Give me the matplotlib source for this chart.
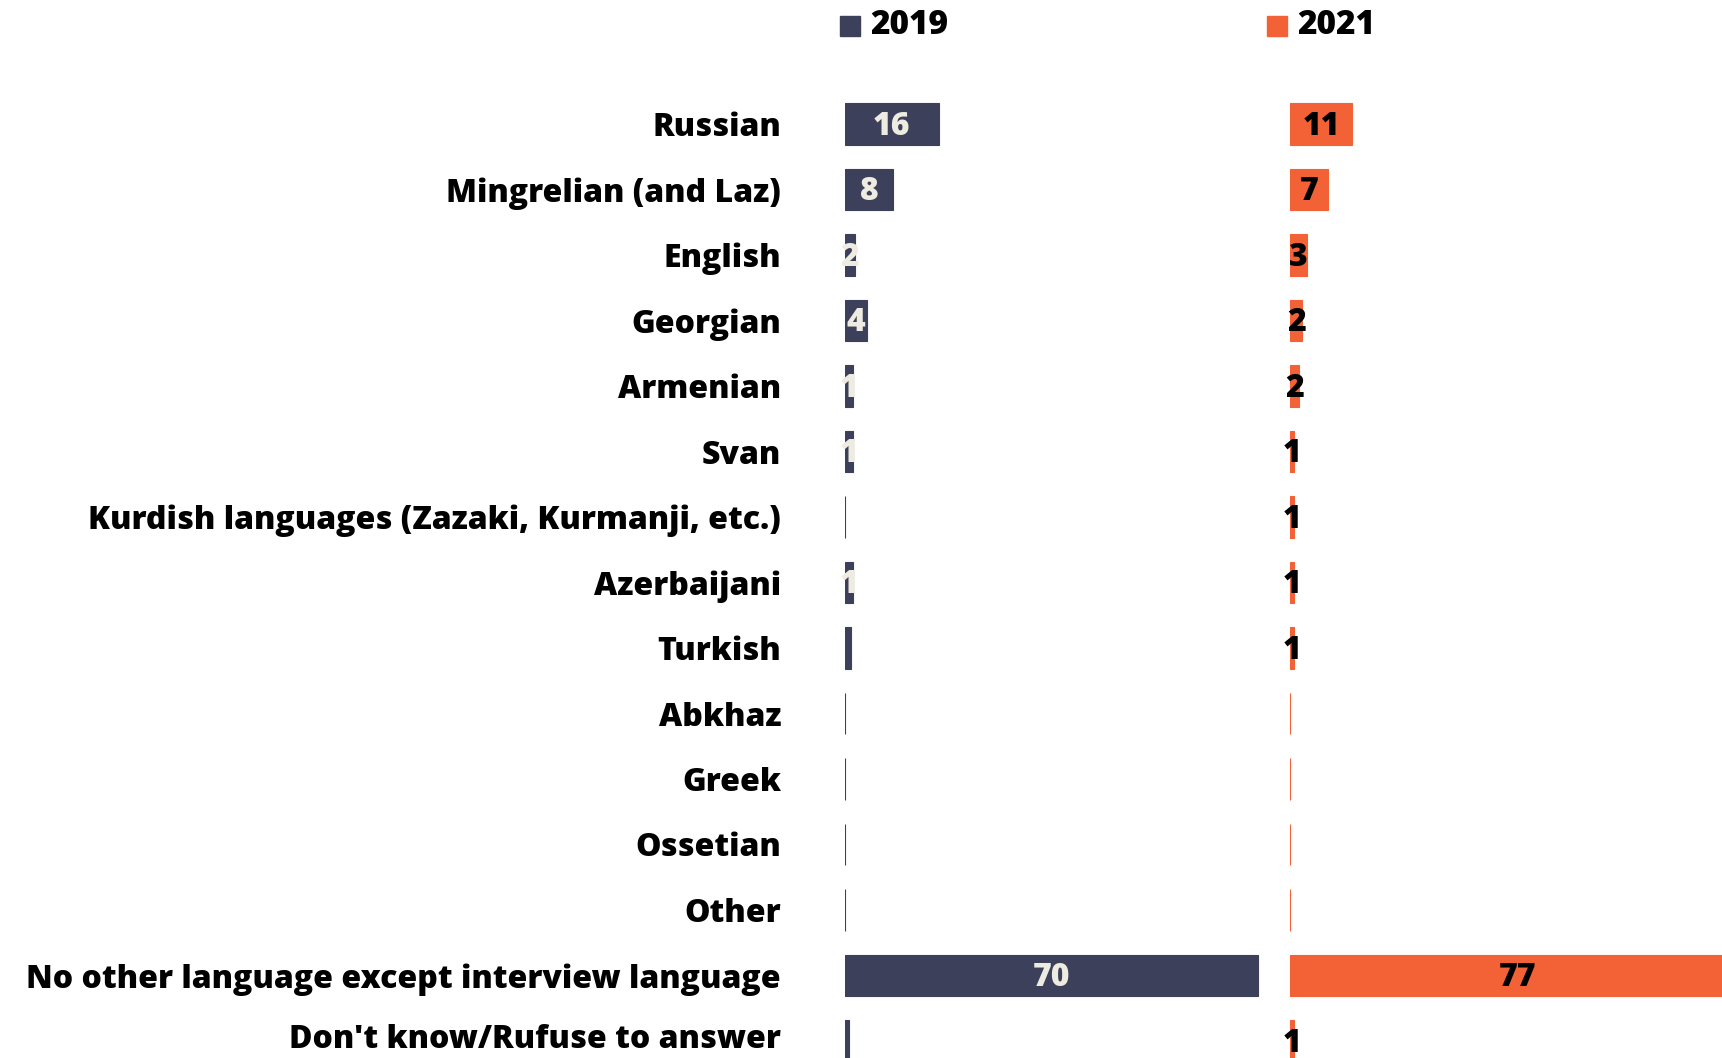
import matplotlib
matplotlib.use("Agg")
import matplotlib.pyplot as plt
from matplotlib.patches import Rectangle
from matplotlib.transforms import ScaledTranslation

plt.rcParams['font.family'] = ['Open Sans', 'DejaVu Sans']
plt.rcParams['font.weight'] = 'bold'

# Data
categories = [
    "Russian", "Mingrelian (and Laz)", "English", "Georgian", "Armenian", "Svan",
    "Kurdish languages (Zazaki, Kurmanji, etc.)", "Azerbaijani", "Turkish",
    "Abkhaz", "Greek", "Ossetian", "Other",
    "No other language except interview language", "Don't know/Rufuse to answer",
]
years = ["2019", "2021"]
values_2019 = [15.9, 8.1, 1.7, 3.8, 1.3, 1.3, 0, 1.4, 1.1, 0, 0, 0, 0, 70, 0.6]
labels_2019 = ["16", "8", "2", "4", "1", "1", "", "1", "", "", "", "", "", "70", ""]
values_2021 = [10.5, 6.4, 2.9, 2.1, 1.6, 0.7, 0.6, 0.6, 0.6, 0, 0, 0, 0, 77, 0.7]
labels_2021 = ["11", "7", "3", "2", "2", "1", "1", "1", "1", "", "", "", "", "77", "1"]

NAVY = "#3d405b"
ORANGE = "#f26236"
CREAM = "#eeebe0"

W, H = 1722, 1058
fig = plt.figure(figsize=(W / 100, H / 100), dpi=100)
fig.patch.set_facecolor("white")

PX_PER_UNIT = 5.9
ROW0 = 124.0      # pixel y of first row centre
ROW_STEP = 65.5   # pixel distance between rows
y_top = -ROW0 / ROW_STEP
y_bot = (H - ROW0) / ROW_STEP


def make_axes(left_px, right_px):
    ax = fig.add_axes([left_px / W, 0, (right_px - left_px) / W, 1])
    ax.set_xlim(0, (right_px - left_px) / PX_PER_UNIT)
    ax.set_ylim(y_bot, y_top)
    for s in ax.spines.values():
        s.set_visible(False)
    ax.set_xticks([])
    ax.patch.set_alpha(0)
    return ax


ax1 = make_axes(845, 1275)
ax2 = make_axes(1290, W)

rows = list(range(len(categories)))

for ax, vals, labs, col, tcol in [
    (ax1, values_2019, labels_2019, NAVY, CREAM),
    (ax2, values_2021, labels_2021, ORANGE, "black"),
]:
    ax.barh(rows, vals, height=0.64, color=col, edgecolor=col, linewidth=0.8)
    for r, v, t in zip(rows, vals, labs):
        if t:
            ax.text(v / 2, r + 0.04, t, ha="center", va="center", color=tcol,
                    fontsize=23, fontweight=800, clip_on=False)

ax1.set_yticks(rows)
ax1.set_yticklabels(categories, fontsize=23, fontweight=800, color="black")
ax1.tick_params(axis="y", length=0, pad=46)
ax2.set_yticks([])

# last label sits a little higher so it stays inside the picture
last = ax1.get_yticklabels()[-1]
last.set_transform(last.get_transform() + ScaledTranslation(0, 0.05, fig.dpi_scale_trans))

# legend at the top
for (x_sq, x_txt, col, yr) in [(840, 870, NAVY, years[0]), (1267, 1297, ORANGE, years[1])]:
    fig.add_artist(Rectangle((x_sq / 100, (H - 36) / 100), 0.20, 0.20,
                             transform=fig.dpi_scale_trans, color=col))
    fig.text(x_txt / W, (H - 25) / H, yr, ha="left", va="center",
             fontsize=24, fontweight=800, color="black")

fig.savefig("out.png", dpi=100, facecolor="white")
